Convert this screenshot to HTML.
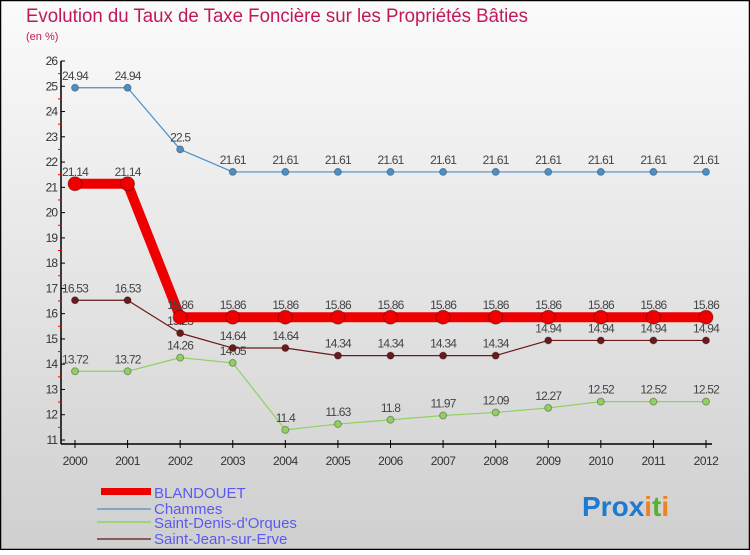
<!DOCTYPE html>
<html><head><meta charset="utf-8"><style>
html,body{margin:0;padding:0}
body{width:750px;height:550px;overflow:hidden;font-family:"Liberation Sans",sans-serif}
</style></head><body>
<svg id="chart" width="750" height="550" xmlns="http://www.w3.org/2000/svg" font-family="Liberation Sans, sans-serif">
<defs><linearGradient id="bg" x1="0" y1="0" x2="0" y2="1"><stop offset="0" stop-color="#fbfbfb"/><stop offset="1" stop-color="#cfcfcf"/></linearGradient></defs>
<rect x="0.5" y="0.5" width="749" height="549" fill="url(#bg)" stroke="#000" stroke-width="1.5"/>
<text x="26" y="22" font-size="19" fill="#c2185b" textLength="502" lengthAdjust="spacingAndGlyphs">Evolution du Taux de Taxe Foncière sur les Propriétés Bâties</text>
<text x="26" y="40" font-size="11" fill="#c2185b">(en %)</text>
<g id="axes"></g><g id="series"></g>
<g>
<rect x="101" y="488" width="50" height="7" fill="#e00"/>
<rect x="97" y="508" width="54" height="2" fill="#7fa8c8"/>
<rect x="97" y="521" width="54" height="2" fill="#9ed47a"/>
<rect x="97" y="538" width="54" height="2" fill="#8a5a5a"/>
<g font-size="15" fill="#5a5af0">
<text x="154" y="498">BLANDOUET</text>
<text x="154" y="514">Chammes</text>
<text x="154" y="528">Saint-Denis-d'Orques</text>
<text x="154" y="544">Saint-Jean-sur-Erve</text>
</g></g>
<text x="582" y="516" font-size="28" font-weight="bold"><tspan fill="#1e7ad0">Pro</tspan><tspan fill="#1e7ad0">x</tspan><tspan fill="#f08020">i</tspan><tspan fill="#58b030">t</tspan><tspan fill="#f08020">i</tspan></text>
</svg>
<script>
const years=[2000,2001,2002,2003,2004,2005,2006,2007,2008,2009,2010,2011,2012];
const blandouet=[21.14,21.14,15.86,15.86,15.86,15.86,15.86,15.86,15.86,15.86,15.86,15.86,15.86];
const chammes=[24.94,24.94,22.5,21.61,21.61,21.61,21.61,21.61,21.61,21.61,21.61,21.61,21.61];
const saintDenis=[13.72,13.72,14.26,14.05,11.4,11.63,11.8,11.97,12.09,12.27,12.52,12.52,12.52];
const saintJean=[16.53,16.53,15.23,14.64,14.64,14.34,14.34,14.34,14.34,14.94,14.94,14.94,14.94];
const yTicks=[11,12,13,14,15,16,17,18,19,20,21,22,23,24,25,26];
const NS='http://www.w3.org/2000/svg';
const x=i=>75+i*(706-75)/(years.length-1);
const y=v=>440-(v-11)*(440-61)/15;
function mk(t,a,p){const e=document.createElementNS(NS,t);for(const k in a)e.setAttribute(k,a[k]);p.appendChild(e);return e;}
const ax=document.getElementById('axes');
let l=mk('line',{x1:61,y1:61,x2:61,y2:444,stroke:'#000','stroke-width':1.5},ax);


l=mk('line',{x1:61,y1:444,x2:712,y2:444,stroke:'#000','stroke-width':1.5},ax);


yTicks.forEach(v=>{
 mk('line',{x1:61,y1:y(v),x2:65,y2:y(v),stroke:'#000'},ax);
 if(v<26)mk('line',{x1:58,y1:y(v+0.5),x2:62,y2:y(v+0.5),stroke:'#e00'},ax);
 const t=mk('text',{x:57,y:y(v)+4,'font-size':12,'text-anchor':'end',fill:'#333','letter-spacing':'-1'},ax);
 
 
 t.textContent=v;});
years.forEach((yr,i)=>{
 mk('line',{x1:x(i),y1:440,x2:x(i),y2:448,stroke:'#000'},ax);
 const t=mk('text',{x:x(i),y:465,'font-size':12,'text-anchor':'middle',fill:'#333','letter-spacing':'-0.5'},ax);
 
 
 t.textContent=yr;});
const sg=document.getElementById('series');
function series(vals,color,w,r,name){
 const g=mk('g',{},sg);
 
 
 const p=mk('polyline',{points:vals.map((v,i)=>x(i)+','+y(v)).join(' '),fill:'none',stroke:color,'stroke-width':w,'stroke-linejoin':'round'},g);
 
 
 vals.forEach((v,i)=>{
  const c=mk('circle',{cx:x(i),cy:y(v),r:r,fill:color,stroke:'rgba(0,0,0,0.3)','stroke-width':1},g);
  
  
  const t=mk('text',{x:x(i),y:y(v)-8,'font-size':12,'text-anchor':'middle',fill:'#444','letter-spacing':'-0.8'},g);
  
  
  t.textContent=v;});
}
series(chammes,'#4a90c8',1.2,3.5,'chammes');
series(saintDenis,'#8fd060',1.2,3.5,'saint-denis');
series(saintJean,'#6a1a1a',1.2,3.5,'saint-jean');
series(blandouet,'#ee0000',10,7,'blandouet');
</script>
</body></html>
